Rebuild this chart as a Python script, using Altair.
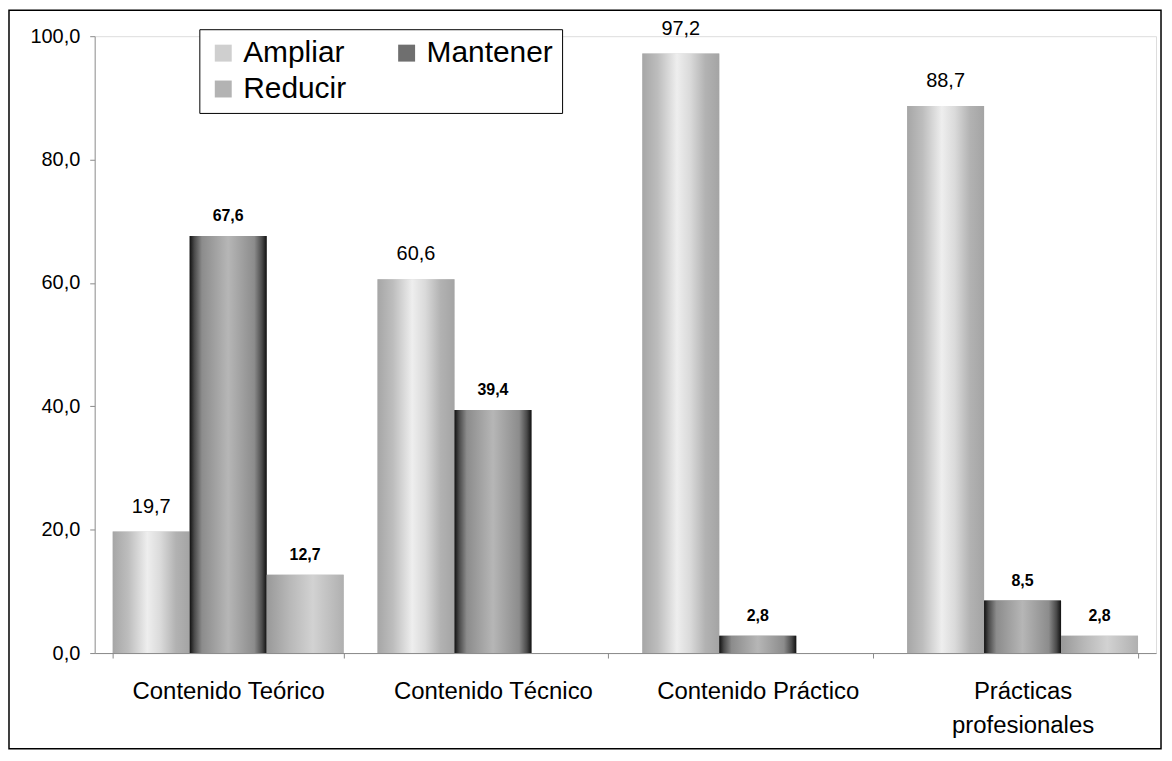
import altair as alt
import pandas as pd

categories = ["Contenido Teórico", "Contenido Técnico", "Contenido Práctico", "Prácticas profesionales"]
series = ["Ampliar", "Mantener", "Reducir"]
ampliar = [19.7, 60.6, 97.2, 88.7]
mantener = [67.6, 39.4, 2.8, 8.5]
reducir = [12.7, None, None, 2.8]
y_ticks = [0, 20, 40, 60, 80, 100]

rows = []
for s, vals in zip(series, [ampliar, mantener, reducir]):
    for c, v in zip(categories, vals):
        if v is not None:
            rows.append({"cat": c, "series": s, "value": v})
df = pd.DataFrame(rows)

FONT = "Liberation Sans"

x_enc = alt.X(
    "cat:N",
    sort=categories,
    scale=alt.Scale(domain=categories, paddingInner=0.128, paddingOuter=0.068),
    axis=alt.Axis(
        title=None, labelAngle=0, labelFontSize=24, labelFont=FONT, labelColor="black",
        domainColor="#8a8a8a", tickColor="#8a8a8a", tickBand="extent", tickSize=5,
        labelPadding=22, labelLineHeight=34, labelLimit=500,
        labelExpr="datum.label == 'Prácticas profesionales' ? ['Prácticas', 'profesionales'] : datum.label",
    ),
)
xo_enc = alt.XOffset("series:N", sort=series,
                     scale=alt.Scale(domain=series, paddingInner=0, paddingOuter=0))
y_enc = alt.Y(
    "value:Q",
    scale=alt.Scale(domain=[0, 100], nice=False),
    axis=alt.Axis(
        title=None, values=y_ticks, grid=False, labelFontSize=20, labelFont=FONT,
        labelColor="black", domainColor="#9a9a9a", tickColor="#8a8a8a", tickSize=5,
        labelPadding=10,
        labelExpr="replace(format(datum.value, '.1f'), '.', ',')",
    ),
)

base = alt.Chart(df)

bars = base.mark_bar().encode(
    x=x_enc, xOffset=xo_enc, y=y_enc,
    color=alt.Color(
        "series:N",
        scale=alt.Scale(domain=series, range=["#cfcfcf", "#6f6f6f", "#b3b3b3"]),
        legend=alt.Legend(
            title=None, orient="none", legendX=105, legendY=-7, columns=2,
            direction="horizontal",
            symbolType="square", symbolSize=289, symbolStrokeWidth=0,
            labelFontSize=30, labelFont=FONT, labelColor="black", labelOffset=5,
            columnPadding=45, rowPadding=6, padding=9, labelLimit=400,
            strokeColor="black", fillColor="white",
        ),
    ),
)


def grad(stops):
    return {
        "gradient": "linear", "x1": 0, "x2": 1, "y1": 0, "y2": 0,
        "stops": [{"offset": o, "color": c} for o, c in stops],
    }


grads = {
    "Ampliar": grad([(0, "#a6a6a6"), (0.2, "#bdbdbd"), (0.45, "#eeeeee"), (0.62, "#dadada"),
                     (0.82, "#b2b2b2"), (1, "#a4a4a4")]),
    "Mantener": grad([(0, "#111111"), (0.06, "#4a4a4a"), (0.16, "#8c8c8c"), (0.5, "#b6b6b6"),
                      (0.84, "#8c8c8c"), (0.94, "#4a4a4a"), (1, "#111111")]),
    "Reducir": grad([(0, "#999999"), (0.3, "#b8b8b8"), (0.6, "#d2d2d2"), (1, "#b0b0b0")]),
}

overlays = [
    base.transform_filter(alt.datum.series == s).mark_bar(color=grads[s]).encode(
        x=x_enc, xOffset=xo_enc, y=y_enc
    )
    for s in series
]

label_expr = "replace(format(datum.value, '.1f'), '.', ',')"

labels_a = base.transform_filter(alt.datum.series == "Ampliar").transform_calculate(
    lbl=label_expr
).mark_text(font=FONT, fontSize=20, color="black", baseline="alphabetic", dy=-19).encode(
    x=x_enc, xOffset=xo_enc, y=y_enc, text="lbl:N"
)

labels_b = base.transform_filter(alt.datum.series != "Ampliar").transform_calculate(
    lbl=label_expr
).mark_text(font=FONT, fontSize=16, fontWeight="bold", color="black",
            baseline="alphabetic", dy=-15).encode(
    x=x_enc, xOffset=xo_enc, y=y_enc, text="lbl:N"
)

frame = alt.Chart(pd.DataFrame({"f": [0]})).mark_rect(
    filled=False, stroke="black", strokeWidth=1.5
).encode(
    x=alt.value(-86), x2=alt.value(1070), y=alt.value(-26), y2=alt.value(715)
)

chart = alt.layer(bars, *overlays, labels_a, labels_b, frame).properties(
    width=1065, height=619,
    autosize=alt.AutoSizeParams(type="none"),
    padding={"left": 87, "top": 27, "right": 8, "bottom": 98},
).configure_view(stroke=None).configure(background="white")

chart.save("out.html", embed_options={"renderer": "svg", "actions": False})
